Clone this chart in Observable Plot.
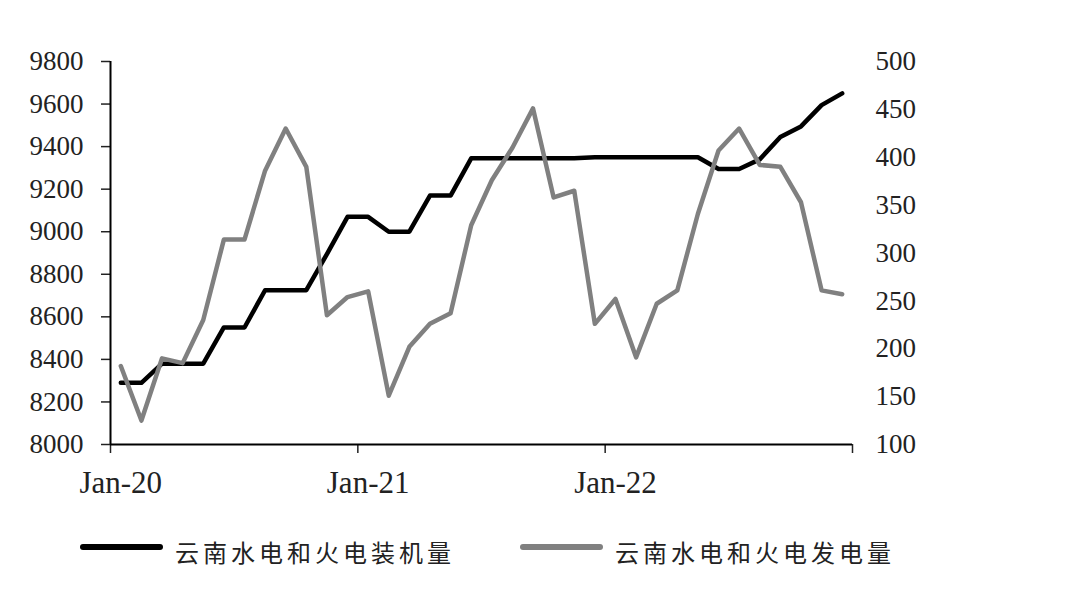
<!DOCTYPE html>
<html>
<head>
<meta charset="utf-8">
<script src="https://cdn.jsdelivr.net/npm/d3@7"></script>
<script src="https://cdn.jsdelivr.net/npm/@observablehq/plot@0.6"></script>
<style>
  body { margin: 0; background: #fff; width: 1080px; height: 591px; position: relative; overflow: hidden; }
  #chart { position: absolute; left: 0; top: 0; }
  .leg { position: absolute; top: 537px; height: 30px; line-height: 30px; display: flex; align-items: center;
         font-family: "Noto Sans CJK SC", sans-serif; font-size: 24px; letter-spacing: 4px; color: #222; white-space: nowrap; }
  .sw { display: inline-block; width: 83px; height: 6px; border-radius: 3px; margin-right: 12px; position: relative; top: -5px; }
</style>
</head>
<body>
<div id="chart"></div>
<script>
// ---- data ----
const monthIndex = d3.range(36); // Jan-20 … Dec-22, monthly
const xTickIndex = [0, 12, 24];
const xTickLabels = ["Jan-20", "Jan-21", "Jan-22"];
const seriesNames = ["云南水电和火电装机量", "云南水电和火电发电量"];
const seriesColors = ["#000000", "#808080"];
// installed capacity (left axis)
const capacity = [8290, 8290, 8380, 8380, 8380, 8550, 8550, 8725, 8725, 8725, 8895, 9070,
                  9070, 9000, 9000, 9170, 9170, 9345, 9345, 9345, 9345, 9345, 9345, 9350,
                  9350, 9350, 9350, 9350, 9350, 9295, 9295, 9340, 9445, 9495, 9595, 9650];
// generation (right axis)
const generation = [182, 125, 190, 185, 230, 314, 314, 386, 430, 390, 235, 254,
                    260, 151, 202, 226, 237, 329, 376, 410, 451, 358, 365, 226,
                    252, 191, 247, 261, 341, 407, 430, 392, 390, 353, 261, 257];
const leftTicks = [8000, 8200, 8400, 8600, 8800, 9000, 9200, 9400, 9600, 9800];
const rightTicks = [100, 150, 200, 250, 300, 350, 400, 450, 500];
const leftDomain = [8000, 9800];
const rightDomain = [100, 500];

// map right-axis values onto the left scale
const toLeft = v => leftDomain[0] + (v - rightDomain[0]) * (leftDomain[1] - leftDomain[0]) / (rightDomain[1] - rightDomain[0]);
const fromLeft = y => rightDomain[0] + (y - leftDomain[0]) * (rightDomain[1] - rightDomain[0]) / (leftDomain[1] - leftDomain[0]);

const rows = monthIndex.map(i => ({ i, cap: capacity[i], gen: toLeft(generation[i]) }));
const boundaries = [-0.5, 11.5, 23.5, 35.5];

const chart = Plot.plot({
  width: 1080,
  height: 490,
  marginLeft: 110,
  marginRight: 228,
  marginTop: 61,
  marginBottom: 46,
  x: { domain: [-0.5, 35.5], axis: null, label: null },
  y: { domain: leftDomain, axis: null, label: null },
  style: { fontFamily: "'Liberation Serif', serif", color: "#222", background: "white", overflow: "visible" },
  marks: [
    Plot.axisY({ ticks: leftTicks, tickSize: 9, tickPadding: 18, fontSize: 27, strokeWidth: 1.5, label: null,
                 tickFormat: d => String(d) }),
    Plot.axisY({ anchor: "right", ticks: rightTicks.map(toLeft), tickSize: 0, tickPadding: 23, fontSize: 27, label: null,
                 tickFormat: d => String(Math.round(fromLeft(d))) }),
    Plot.axisX({ ticks: boundaries, tickSize: 9, strokeWidth: 1.5, label: null, tickFormat: () => "" }),
    Plot.axisX({ ticks: xTickIndex, tickSize: 0, tickPadding: 26, fontSize: 31, label: null,
                 tickFormat: d => xTickLabels[xTickIndex.indexOf(d)] }),
    Plot.ruleX([-0.5], { stroke: "#000", strokeWidth: 2 }),
    Plot.ruleY([leftDomain[0]], { stroke: "#000", strokeWidth: 2 }),
    Plot.lineY(rows, { x: "i", y: "cap", stroke: seriesColors[0], strokeWidth: 4.5, strokeLinejoin: "round" }),
    Plot.lineY(rows, { x: "i", y: "gen", stroke: seriesColors[1], strokeWidth: 4.5, strokeLinejoin: "round" })
  ]
});
document.getElementById("chart").appendChild(chart);

// legend
const legendLefts = [80, 520];
seriesNames.forEach((name, k) => {
  const d = document.createElement("div");
  d.className = "leg";
  d.style.left = legendLefts[k] + "px";
  const sw = document.createElement("span");
  sw.className = "sw";
  sw.style.background = seriesColors[k];
  d.appendChild(sw);
  d.appendChild(document.createTextNode(name));
  document.body.appendChild(d);
});
</script>
</body>
</html>
